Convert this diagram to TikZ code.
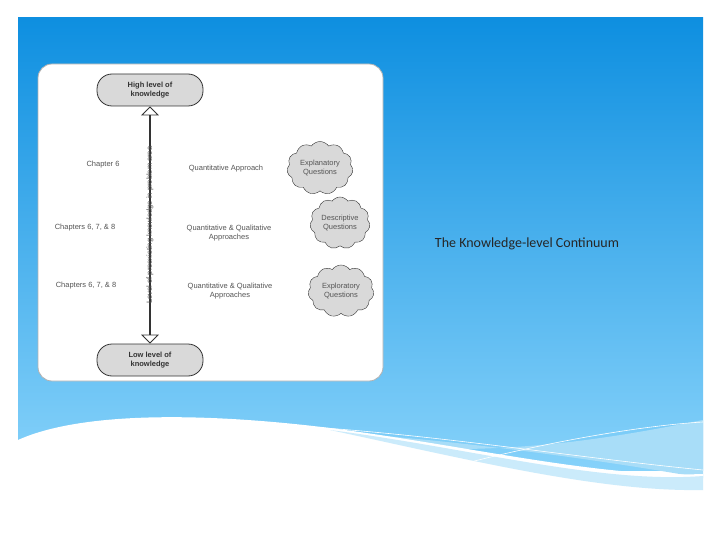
\documentclass[tikz,border=0pt]{standalone}
\usepackage{fontspec}
\setmainfont{Liberation Sans}
\newfontfamily\titlefont{Carlito}
\usetikzlibrary{shapes.symbols,shapes.arrows}
\definecolor{topblue}{HTML}{0E8FE0}
\definecolor{botblue}{HTML}{86D2FA}
\definecolor{lblue}{HTML}{A8DDF8}
\definecolor{pill}{HTML}{D9D9D9}
\definecolor{txt}{HTML}{555555}
\tikzset{
  lab/.style={font=\fontsize{7.5}{9}\selectfont, text=txt, align=center},
  pillbox/.style={draw=black!80, line width=0.8pt, fill=pill, rounded corners=15pt, minimum width=106pt, minimum height=32pt, align=center, font=\fontsize{7.5}{9}\selectfont\bfseries, text=black!80},
  cloudq/.style={cloud, cloud puffs=11, cloud puff arc=110, aspect=1.2, draw=black!80, fill=pill, minimum width=66pt, minimum height=52pt, inner sep=0pt, align=center, font=\fontsize{7.5}{9}\selectfont, text=txt}
}
\begin{document}
\begin{tikzpicture}[x=1pt,y=-1pt]
\useasboundingbox (0,0) rectangle (720,540);
\fill[white] (0,0) rectangle (720,540);
\shade[top color=topblue, bottom color=botblue] (18,18) rectangle (703,470);
\fill[lblue] (230,428) .. controls (400,430) and (600,460) .. (703,478) -- (703,420) .. controls (600,440) and (450,470) .. (230,428);
\fill[white] (18,440) .. controls (80,412) and (200,412) .. (330,428) .. controls (470,446) and (600,478) .. (703,474) -- (703,540) -- (18,540) -- cycle;
\fill[lblue!60] (330,430) .. controls (470,448) and (600,484) .. (703,476) -- (703,490) .. controls (600,492) and (470,460) .. (330,430);
\draw[white, line width=0.6pt] (230,423) .. controls (400,428) and (550,455) .. (703,470);
\draw[white, line width=0.6pt] (440,470) .. controls (550,440) and (650,425) .. (703,422);
% diagram panel
\fill[white, draw=black!30, line width=0.8pt, rounded corners=14pt] (38,64) rectangle (383,381);
\node[pillbox] (high) at (150,90) {High level of\\knowledge};
\node[pillbox] (low) at (150,360) {Low level of\\knowledge};
\node[double arrow, draw=black!80, fill=white, line width=0.8pt, shape border rotate=90, minimum width=16pt, double arrow head extend=7pt, double arrow head indent=0pt, minimum height=236pt, inner sep=0pt] (arr) at (150,225) {};
\node[lab, rotate=90] (axis) at (150,225) {Level of preexisting knowledge in problem area};
\node[lab] (c1) at (103,165) {Chapter 6};
\node[lab] (c2) at (85,228) {Chapters 6, 7, \& 8};
\node[lab] (c3) at (86,286) {Chapters 6, 7, \& 8};
\node[lab] (a1) at (226,169) {Quantitative Approach};
\node[lab] (a2) at (229,233) {Quantitative \& Qualitative\\Approaches};
\node[lab] (a3) at (230,291) {Quantitative \& Qualitative\\Approaches};
\node[cloudq] (q1) at (320,168) {Explanatory\\Questions};
\node[cloudq, minimum width=60pt] (q2) at (340,223) {Descriptive\\Questions};
\node[cloudq] (q3) at (341,291) {Exploratory\\Questions};
\node[font=\titlefont\fontsize{14}{16}\selectfont, text=black!85] (title) at (527,244) {The Knowledge-level Continuum};
\end{tikzpicture}
\end{document}
